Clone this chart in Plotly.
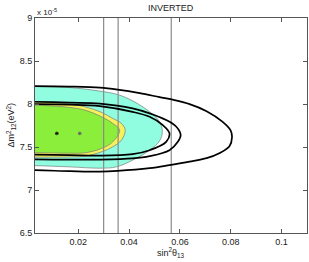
import plotly.graph_objects as go

# ---- data (sin^2 theta13, dm^2_12 in 1e-5 eV^2) ----
cyan_x = [-0.02, -0.008, 0.003, 0.0167, 0.0285, 0.0355, 0.0414, 0.0481, 0.0520, 0.0531,
          0.0520, 0.0481, 0.0414, 0.0350, 0.0285, 0.0167, 0.003, -0.008, -0.02]
cyan_y = [8.203, 8.203, 8.203, 8.191, 8.150, 8.110, 8.037, 7.909, 7.793, 7.680,
          7.570, 7.463, 7.347, 7.269, 7.254, 7.269, 7.283, 7.283, 7.283]

yel_x = [-0.02, -0.008, 0.003, 0.0167, 0.0226, 0.0292, 0.0336, 0.0370, 0.0385,
         0.0370, 0.0336, 0.0292, 0.0226, 0.0167, 0.003, -0.008, -0.02]
yel_y = [8.022, 8.022, 8.022, 7.999, 7.967, 7.902, 7.832, 7.774, 7.696,
         7.580, 7.502, 7.444, 7.393, 7.385, 7.382, 7.382, 7.382]

grn_x = [-0.02, -0.008, 0.003, 0.0167, 0.0226, 0.0292, 0.0336, 0.0363,
         0.0336, 0.0292, 0.0226, 0.0167, 0.003, -0.008, -0.02]
grn_y = [7.987, 7.987, 7.987, 7.960, 7.929, 7.851, 7.774, 7.696,
         7.560, 7.483, 7.432, 7.428, 7.434, 7.434, 7.434]

# black contour lines
ca_x = [-0.02, -0.008, 0.003, 0.0167, 0.0285, 0.0355, 0.0442, 0.0520, 0.0579, 0.0638,
        0.0705, 0.0767, 0.0799, 0.0805, 0.0795, 0.0755, 0.0705, 0.0638, 0.0559, 0.0481,
        0.0355, 0.0285, 0.0167, 0.003, -0.008, -0.02]
ca_y = [8.208, 8.208, 8.208, 8.203, 8.191, 8.168, 8.127, 8.080, 8.045, 7.999,
        7.917, 7.795, 7.696, 7.615, 7.510, 7.428, 7.370, 7.329, 7.289, 7.254,
        7.222, 7.213, 7.219, 7.230, 7.230, 7.230]

cb_x = [-0.02, -0.008, 0.003, 0.0167, 0.0285, 0.0414, 0.0481, 0.0546, 0.0586, 0.0603,
        0.0592, 0.0559, 0.0481, 0.0414, 0.0285, 0.0167, 0.003, -0.008, -0.02]
cb_y = [8.028, 8.028, 8.026, 8.016, 8.005, 7.949, 7.891, 7.813, 7.735, 7.638,
        7.560, 7.463, 7.393, 7.367, 7.353, 7.353, 7.355, 7.355, 7.355]

cc_x = [-0.02, -0.008, 0.003, 0.0167, 0.0285, 0.0414, 0.0481, 0.0533, 0.0559,
        0.0546, 0.0481, 0.0414, 0.0285, 0.0167, 0.003, -0.008, -0.02]
cc_y = [7.999, 7.999, 7.999, 7.993, 7.976, 7.909, 7.851, 7.754, 7.658,
        7.560, 7.463, 7.417, 7.399, 7.405, 7.411, 7.411, 7.411]

vline_x = [0.030, 0.0357, 0.0566]
best_x = [0.0116, 0.0206]
best_y = [7.658, 7.658]
best_col = ["#111111", "#666666"]

x_ticks = [0.02, 0.04, 0.06, 0.08, 0.1]
x_labels = ["0.02", "0.04", "0.06", "0.08", "0.1"]
y_ticks = [6.5, 7, 7.5, 8, 8.5, 9]
y_labels = ["6.5", "7", "7.5", "8", "8.5", "9"]
x_range = [0.003, 0.11]
y_range = [6.5, 9.0]

FONT = "Liberation Sans, Arial, Helvetica, sans-serif"

fig = go.Figure()

for xs, ys, col in [(cyan_x, cyan_y, "#90FCE0"),
                    (yel_x, yel_y, "#F8F25A"),
                    (grn_x, grn_y, "#8BEE3A")]:
    fig.add_trace(go.Scatter(x=xs, y=ys, mode="lines", fill="toself", fillcolor=col,
                             line=dict(color="#7a7a7a", width=0.7, shape="spline"),
                             hoverinfo="skip", showlegend=False))

for vx in vline_x:
    fig.add_trace(go.Scatter(x=[vx, vx], y=y_range, mode="lines",
                             line=dict(color="#8a8a8a", width=1.2),
                             hoverinfo="skip", showlegend=False))

for xs, ys in [(ca_x, ca_y), (cb_x, cb_y), (cc_x, cc_y)]:
    fig.add_trace(go.Scatter(x=xs, y=ys, mode="lines",
                             line=dict(color="black", width=1.7, shape="spline"),
                             hoverinfo="skip", showlegend=False))

fig.add_trace(go.Scatter(x=best_x, y=best_y, mode="markers",
                         marker=dict(symbol="asterisk-open", size=3, color=best_col,
                                     line=dict(color=best_col, width=1)),
                         hoverinfo="skip", showlegend=False))

axis_common = dict(showgrid=False, zeroline=False, showline=True, linecolor="#555555",
                   linewidth=1, mirror="ticks", ticks="inside", ticklen=4,
                   tickcolor="#555555", tickwidth=1,
                   tickfont=dict(family=FONT, size=9, color="#222222"))

fig.update_layout(
    width=309, height=262,
    margin=dict(l=35, r=2, t=18, b=29),
    paper_bgcolor="white", plot_bgcolor="white",
    font=dict(family=FONT, size=9, color="#222222"),
    xaxis=dict(range=x_range, tickvals=x_ticks, ticktext=x_labels, **axis_common),
    yaxis=dict(range=y_range, tickvals=y_ticks, ticktext=y_labels, **axis_common),
    annotations=[
        dict(text="INVERTED", xref="paper", yref="paper", x=0.5, y=1.0, yshift=10,
             showarrow=False, xanchor="center", yanchor="middle",
             font=dict(family=FONT, size=9, color="#222222")),
        dict(text="x 10<sup>-5</sup>", xref="paper", yref="paper", x=0.0, y=1.0, yshift=6,
             showarrow=False, xanchor="left", yanchor="middle",
             font=dict(family=FONT, size=8, color="#222222")),
        dict(text="sin<sup>2</sup>θ<sub>13</sub>", xref="paper", yref="paper", x=0.5, y=0.0,
             yshift=-19, showarrow=False, xanchor="center", yanchor="middle",
             font=dict(family=FONT, size=9, color="#222222")),
        dict(text="Δm<sup>2</sup><sub>12</sub>(eV<sup>2</sup>)", xref="paper", yref="paper",
             x=0.0, y=0.5, xshift=-24, textangle=-90, showarrow=False,
             xanchor="center", yanchor="middle",
             font=dict(family=FONT, size=9, color="#222222")),
    ],
)

fig.write_html("out.html", config={"displayModeBar": False},
               post_script="document.body.style.margin='0';document.body.style.padding='0';")
